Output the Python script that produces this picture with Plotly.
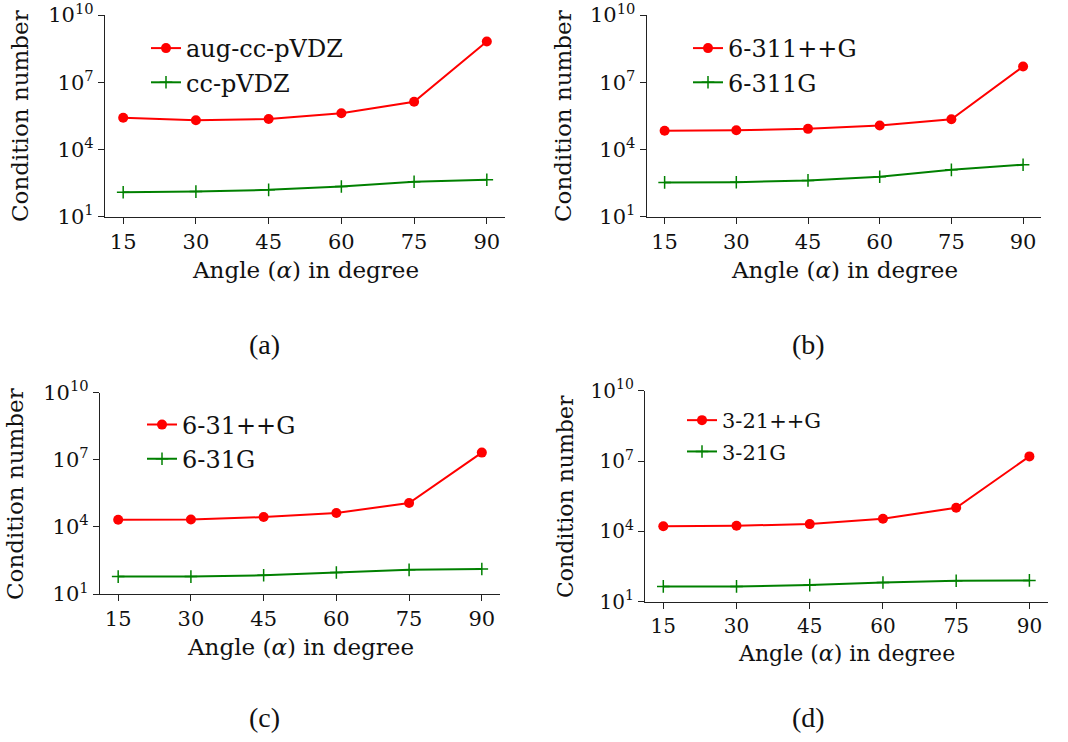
import plotly.graph_objects as go

angles = [15, 30, 45, 60, 75, 90]
x_ticks = [15, 30, 45, 60, 75, 90]
y_tickvals = [1e1, 1e4, 1e7, 1e10]
y_ticktext = ["10<sup>1</sup>", "10<sup>4</sup>", "10<sup>7</sup>", "10<sup>10</sup>"]

aug_cc_pvdz = [2.6e5, 2.0e5, 2.3e5, 4.1e5, 1.35e6, 6.6e8]
cc_pvdz = [123, 132, 158, 224, 363, 447]
b6_311ppg = [6.9e4, 7.2e4, 8.3e4, 1.17e5, 2.24e5, 5.0e7]
b6_311g = [339, 347, 417, 603, 1230, 2090]
b6_31ppg = [2.1e4, 2.15e4, 2.75e4, 4.2e4, 1.17e5, 2.1e7]
b6_31g = [60, 60, 69, 91, 120, 132]
b3_21ppg = [1.66e4, 1.74e4, 2.04e4, 3.47e4, 1.02e5, 1.58e7]
b3_21g = [45, 45, 51, 66, 78, 81]

panels = [
    ("aug-cc-pVDZ", aug_cc_pvdz, "cc-pVDZ", cc_pvdz, "(a)"),
    ("6-311++G", b6_311ppg, "6-311G", b6_311g, "(b)"),
    ("6-31++G", b6_31ppg, "6-31G", b6_31g, "(c)"),
    ("3-21++G", b3_21ppg, "3-21G", b3_21g, "(d)"),
]

W, H = 1068, 742
# pixel boxes: left, right, top, bottom
boxes = [
    (105, 505, 15, 216.7),
    (646.7, 1041, 15, 216.7),
    (100, 500, 392.7, 594),
    (645, 1047.7, 390.7, 601.7),
]
tick_fs = [21, 21, 21, 20]
lab_fs = [23, 23, 23, 22]
leg_fs = [24, 24, 24, 21]
legend_gap = [0, 0, 0, 1]
legend_pos = [(146, 26), (688, 26), (142, 402.5), (682, 400)]
ylab_pos = [(20, 116), (563, 116), (15, 494), (565, 497)]
xlab_pos = [(305, 270), (844, 270), (300, 647), (846, 653)]
panel_lab = [(264, 344), (808, 344), (264, 717), (808, 717)]

SERIF = "DejaVu Serif"
fig = go.Figure()
annotations = []
layout = {}
for i, (n1, v1, n2, v2, lab) in enumerate(panels):
    k = "" if i == 0 else str(i + 1)
    l, r, t, b = boxes[i]
    tfs = tick_fs[i]
    lfs = lab_fs[i]
    leg = "legend" + k
    fig.add_trace(go.Scatter(
        x=angles, y=v1, name=n1, mode="lines+markers",
        line=dict(color="#ff0000", width=2),
        marker=dict(symbol="circle", size=10, color="#ff0000"),
        xaxis="x" + k, yaxis="y" + k, legend=leg, legendgroup=f"g{i}a"))
    fig.add_trace(go.Scatter(
        x=angles, y=v2, name=n2, mode="lines+markers",
        line=dict(color="#008000", width=2),
        marker=dict(symbol="cross-thin", size=9, color="#008000",
                    line=dict(color="#008000", width=1.5)),
        xaxis="x" + k, yaxis="y" + k, legend=leg, legendgroup=f"g{i}b"))
    layout["xaxis" + k] = dict(
        domain=[l / W, r / W], anchor="y" + k, range=[11.25, 93.75],
        tickmode="array", tickvals=x_ticks, ticktext=[str(t_) for t_ in x_ticks],
        showline=True, linecolor="#222", linewidth=1.2, mirror=False, automargin=False,
        ticklabeloverflow="allow",
        ticks="outside", ticklen=6, tickcolor="#222", showgrid=False, zeroline=False,
        tickfont=dict(family=SERIF, size=tfs, color="#111"))
    layout["yaxis" + k] = dict(
        domain=[1 - b / H, 1 - t / H], anchor="x" + k, type="log", range=[1, 10],
        tickmode="array", tickvals=y_tickvals, ticktext=y_ticktext,
        showline=True, linecolor="#222", linewidth=1.2, mirror=False, automargin=False,
        ticklabeloverflow="allow",
        ticks="outside", ticklen=6, tickcolor="#222", showgrid=False, zeroline=False,
        tickfont=dict(family=SERIF, size=tfs, color="#111"))
    lx, ly = legend_pos[i]
    layout[leg] = dict(
        x=lx / W, y=1 - ly / H, xanchor="left", yanchor="top",
        bgcolor="rgba(0,0,0,0)", borderwidth=0, tracegroupgap=legend_gap[i],
        font=dict(family=SERIF, size=leg_fs[i], color="#111"))
    ax, ay = ylab_pos[i]
    annotations.append(dict(
        x=ax / W, y=1 - ay / H, xref="paper", yref="paper", text="Condition number",
        textangle=-90, showarrow=False, xanchor="center", yanchor="middle",
        font=dict(family=SERIF, size=lfs, color="#111")))
    ax, ay = xlab_pos[i]
    annotations.append(dict(
        x=ax / W, y=1 - ay / H, xref="paper", yref="paper",
        text="Angle (<i>α</i>) in degree",
        showarrow=False, xanchor="center", yanchor="middle",
        font=dict(family=SERIF, size=lfs, color="#111")))
    ax, ay = panel_lab[i]
    annotations.append(dict(
        x=ax / W, y=1 - ay / H, xref="paper", yref="paper", text=lab,
        showarrow=False, xanchor="center", yanchor="middle",
        font=dict(family="Liberation Serif", size=28, color="#111")))

fig.update_layout(
    width=W, height=H, margin=dict(l=0, r=0, t=0, b=0, autoexpand=False),
    paper_bgcolor="white", plot_bgcolor="white",
    showlegend=True, annotations=annotations, **layout)

fig.write_html("out.html")
